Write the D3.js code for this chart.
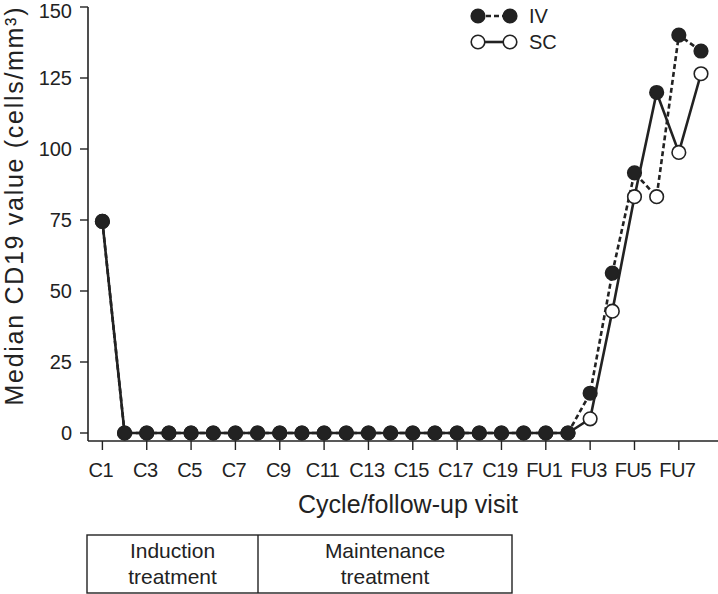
<!DOCTYPE html>
<html><head><meta charset="utf-8">
<script src="https://cdn.jsdelivr.net/npm/d3@7"></script>
<style>html,body{margin:0;padding:0;background:#fff;}</style>
</head><body>
<svg id="chart" width="718" height="594"></svg>
<script>
const categories = ["C1","C2","C3","C4","C5","C6","C7","C8","C9","C10","C11","C12","C13","C14","C15","C16","C17","C18","C19","C20","FU1","FU2","FU3","FU4","FU5","FU6","FU7","FU8"];
const tickLabels = ["C1","C3","C5","C7","C9","C11","C13","C15","C17","C19","FU1","FU3","FU5","FU7"];
const ivValues = [74.5,0,0,0,0,0,0,0,0,0,0,0,0,0,0,0,0,0,0,0,0,0,14,56.3,91.6,83.2,140.1,134.5];
const scValues = [74.5,0,0,0,0,0,0,0,0,0,0,0,0,0,0,0,0,0,0,0,0,0,5,42.9,83.2,119.9,98.8,126.5];
// marker fill as drawn in the source figure (filled = IV style, open = SC style)
const ivFilled = categories.map(c => c !== "FU6");
const scFilled = categories.map(c => c === "FU6");
const yTicks = [0,25,50,75,100,125,150];
const seriesNames = ["IV","SC"];
const phases = ["Induction\ntreatment","Maintenance\ntreatment"];

const ink = "#222";
const font = "'Liberation Sans', Arial, Helvetica, sans-serif";
const svg = d3.select("#chart");

const x = d3.scalePoint().domain(categories).range([102.4, 701]);
const y = d3.scaleLinear().domain([0,150]).range([433, 7]);
const axisY = 441, axisX = 88;

// axes lines
svg.append("line").attr("x1",axisX).attr("x2",718).attr("y1",axisY).attr("y2",axisY)
  .attr("stroke",ink).attr("stroke-width",1.6);
svg.append("line").attr("x1",axisX).attr("x2",axisX).attr("y1",axisY).attr("y2",y(150))
  .attr("stroke",ink).attr("stroke-width",1.6);

// y ticks
const yg = svg.append("g");
yTicks.forEach(t => {
  yg.append("line").attr("x1",axisX-8).attr("x2",axisX).attr("y1",y(t)).attr("y2",y(t))
    .attr("stroke",ink).attr("stroke-width",1.4);
  yg.append("text").attr("x",axisX-16).attr("y",Math.max(y(t), 11)).attr("dy","0.36em")
    .attr("text-anchor","end").attr("font-family",font).attr("font-size",20).attr("fill",ink).text(t);
});
// x ticks
const xg = svg.append("g");
tickLabels.forEach(c => {
  xg.append("line").attr("x1",x(c)).attr("x2",x(c)).attr("y1",axisY).attr("y2",axisY+9)
    .attr("stroke",ink).attr("stroke-width",1.4);
  xg.append("text").attr("x",x(c)-1.5).attr("y",axisY+36)
    .attr("text-anchor","middle").attr("font-family",font).attr("font-size",20).attr("fill",ink)
    .attr("letter-spacing","-0.5").text(c);
});

// titles
svg.append("text").attr("transform",`translate(23,${(408+5)/2}) rotate(-90)`)
  .attr("text-anchor","middle").attr("font-family",font).attr("font-size",25).attr("fill",ink)
  .attr("textLength",398).attr("lengthAdjust","spacing")
  .text("Median CD19 value (cells/mm³)");
svg.append("text").attr("x",408).attr("y",513).attr("text-anchor","middle")
  .attr("font-family",font).attr("font-size",25).attr("fill",ink)
  .attr("textLength",220).attr("lengthAdjust","spacing").text("Cycle/follow-up visit");

// lines
const line = d3.line().x((d,i)=>x(categories[i])).y(d=>y(d));
svg.append("path").datum(ivValues).attr("d",line).attr("fill","none")
  .attr("stroke",ink).attr("stroke-width",2.6).attr("stroke-dasharray","5,3");
svg.append("path").datum(scValues).attr("d",line).attr("fill","none")
  .attr("stroke",ink).attr("stroke-width",2.6);

// markers: open first, then filled
const r = 6.8;
const pts = [];
categories.forEach((c,i) => {
  pts.push({c, v: ivValues[i], filled: ivFilled[i]});
  pts.push({c, v: scValues[i], filled: scFilled[i]});
});
pts.sort((a,b)=> (a.filled?1:0)-(b.filled?1:0));
svg.append("g").selectAll("circle").data(pts).join("circle")
  .attr("cx",d=>x(d.c)).attr("cy",d=>y(d.v)).attr("r",r)
  .attr("fill",d=>d.filled?ink:"#fff").attr("stroke",ink).attr("stroke-width",1.6);

// legend
const lg = svg.append("g");
seriesNames.forEach((s,i) => {
  const ly = 16 + i*26;
  lg.append("line").attr("x1",478).attr("x2",510).attr("y1",ly).attr("y2",ly)
    .attr("stroke",ink).attr("stroke-width",2.6).attr("stroke-dasharray", i===0?"5,3":null);
  [478,510].forEach(cx => lg.append("circle").attr("cx",cx).attr("cy",ly).attr("r",r)
    .attr("fill", i===0?ink:"#fff").attr("stroke",ink).attr("stroke-width",1.6));
  lg.append("text").attr("x",529).attr("y",ly).attr("dy","0.36em").attr("font-family",font)
    .attr("font-size",20).attr("fill",ink).text(s);
});

// phase table
const tx0 = 87, txMid = 258, tx1 = 512, ty0 = 535, ty1 = 593;
svg.append("rect").attr("x",tx0).attr("y",ty0).attr("width",tx1-tx0).attr("height",ty1-ty0)
  .attr("fill","none").attr("stroke",ink).attr("stroke-width",1.4);
svg.append("line").attr("x1",txMid).attr("x2",txMid).attr("y1",ty0).attr("y2",ty1)
  .attr("stroke",ink).attr("stroke-width",1.4);
[[tx0,txMid],[txMid,tx1]].forEach((b,i) => {
  const lines = phases[i].split("\n");
  lines.forEach((t,j) => {
    svg.append("text").attr("x",(b[0]+b[1])/2).attr("y",558 + j*26).attr("text-anchor","middle")
      .attr("font-family",font).attr("font-size",21).attr("fill",ink).text(t);
  });
});
</script>
</body></html>
